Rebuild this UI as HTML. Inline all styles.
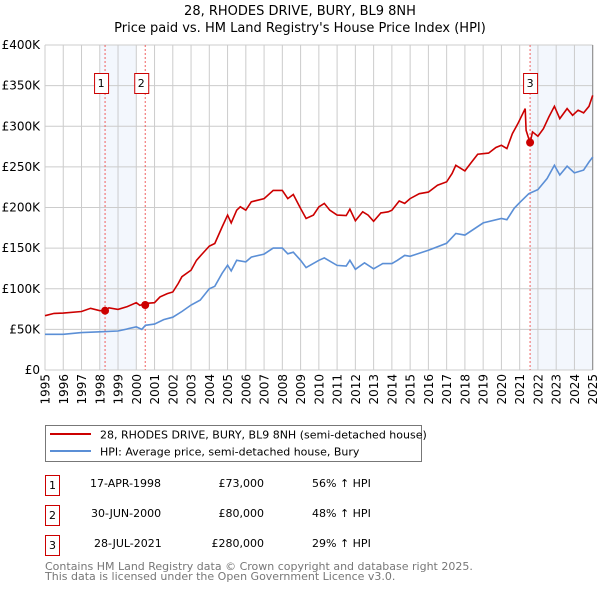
<!DOCTYPE html>
<html><head><meta charset="utf-8"><style>
body{margin:0;background:#fff;font-family:"DejaVu Sans","Liberation Sans",sans-serif}
svg text{font-family:"DejaVu Sans","Liberation Sans",sans-serif}
</style></head><body>
<svg id="c" width="600" height="590" viewBox="0 0 600 590" xmlns="http://www.w3.org/2000/svg">
<text x="300" y="15" text-anchor="middle" font-size="13">28, RHODES DRIVE, BURY, BL9 8NH</text>
<text x="300" y="32" text-anchor="middle" font-size="13">Price paid vs. HM Land Registry's House Price Index (HPI)</text>
<g id="plot"></g>
<rect x="45.5" y="425.5" width="376" height="36" fill="#fff" stroke="#777"/>
<line x1="50" y1="434" x2="91" y2="434" stroke="#cc0000" stroke-width="2"/>
<text x="100" y="438.5" font-size="11">28, RHODES DRIVE, BURY, BL9 8NH (semi-detached house)</text>
<line x1="50" y1="451" x2="91" y2="451" stroke="#5b8fd6" stroke-width="2"/>
<text x="100" y="455.5" font-size="11">HPI: Average price, semi-detached house, Bury</text>
<g font-size="11">
<rect x="45.5" y="475.5" width="14" height="20" fill="#fff" stroke="#cc0000"/><text x="52.5" y="489" text-anchor="middle">1</text>
<text x="90" y="487">17-APR-1998</text><text x="264" y="487" text-anchor="end">£73,000</text><text x="312" y="487">56% ↑ HPI</text>
<rect x="45.5" y="505.5" width="14" height="20" fill="#fff" stroke="#cc0000"/><text x="52.5" y="519" text-anchor="middle">2</text>
<text x="91" y="517">30-JUN-2000</text><text x="264" y="517" text-anchor="end">£80,000</text><text x="312" y="517">48% ↑ HPI</text>
<rect x="45.5" y="535.5" width="14" height="20" fill="#fff" stroke="#cc0000"/><text x="52.5" y="549" text-anchor="middle">3</text>
<text x="94" y="547">28-JUL-2021</text><text x="264" y="547" text-anchor="end">£280,000</text><text x="312" y="547">29% ↑ HPI</text>
</g>
<text x="45" y="570" font-size="11" fill="#777">Contains HM Land Registry data © Crown copyright and database right 2025.</text>
<text x="45" y="580" font-size="11" fill="#777">This data is licensed under the Open Government Licence v3.0.</text>
</svg>
<script>
const hpiYears=[1995,1996,1997,1998,1999,2000,2000.3,2000.5,2001,2001.5,2002,2002.5,2003,2003.5,2004,2004.3,2004.7,2005,2005.2,2005.5,2006,2006.3,2007,2007.5,2008,2008.3,2008.6,2009,2009.3,2010,2010.3,2011,2011.5,2011.7,2012,2012.5,2013,2013.5,2014,2014.3,2014.7,2015,2016,2017,2017.5,2018,2019,2020,2020.3,2020.7,2021,2021.5,2022,2022.5,2022.9,2023.2,2023.6,2024,2024.5,2024.8,2025];
const hpiValues=[44,44,46,47,48,53,50,55,56.5,62,65,72,80,86,100,103,119,129,122,135,133,139,142.6,150,150,143,145,135,126,135,138,128.7,128,135,124,132,124.6,131,131,135,141,140,147.5,156,168,166,181,186.5,185,199,206,217,222,235.7,252,240,250.8,242.6,246,256,262];
const priceYears=[1995,1995.5,1996,1997,1997.5,1998,1998.3,1998.5,1999,1999.5,2000,2000.2,2000.5,2001,2001.3,2001.7,2002,2002.3,2002.5,2003,2003.3,2003.6,2004,2004.3,2004.7,2005,2005.2,2005.5,2005.7,2006,2006.3,2007,2007.5,2008,2008.3,2008.6,2009,2009.3,2009.7,2010,2010.3,2010.6,2011,2011.5,2011.7,2012,2012.4,2012.7,2013,2013.4,2013.8,2014,2014.4,2014.7,2015,2015.5,2016,2016.5,2017,2017.3,2017.5,2018,2018.3,2018.7,2019.3,2019.7,2020,2020.3,2020.6,2020.9,2021.3,2021.35,2021.57,2021.7,2022,2022.3,2022.6,2022.9,2023.2,2023.6,2023.9,2024.2,2024.5,2024.8,2025];
const priceValues=[66.8,69.7,70,72,76,73,73,76.6,74.6,78,82.8,79.5,82,82.8,90,94,96,106.6,114.8,123,135,142.6,152.5,155.7,176,190.6,181,196.7,200.8,196.7,207,211,221,221,211,216,198.8,186.5,190.6,200.8,205,196.7,190.6,190,198,183.6,194.7,190.6,183,193.4,194.7,196.7,208,205,211,217,219,227.5,231.5,241.8,252,245,254,265.6,267,273.8,276.6,272.5,291,303,321.7,295,279.5,293,287.7,297,311.5,324.6,309.4,321.7,313.5,319.7,316.4,324.6,338];
const saleLabels=["1","2","3"];
const saleYears=[1998.29,2000.49,2021.57];
const saleValues=[73,80,280];
const yTicks=[0,50,100,150,200,250,300,350,400];
const yTickLabels=["£0","£50K","£100K","£150K","£200K","£250K","£300K","£350K","£400K"];
const xTicks=[1995,1996,1997,1998,1999,2000,2001,2002,2003,2004,2005,2006,2007,2008,2009,2010,2011,2012,2013,2014,2015,2016,2017,2018,2019,2020,2021,2022,2023,2024,2025];

const X0=45,X1=592.7,Y0=370,Y1=45;
const xs=y=>X0+(y-1995)/30*(X1-X0);
const ys=v=>Y0-v/400*(Y0-Y1);
const NS="http://www.w3.org/2000/svg";
const g=document.getElementById('plot');
function mk(t,a){const e=document.createElementNS(NS,t);for(const k in a)e.setAttribute(k,a[k]);g.appendChild(e);return e;}
// shading
let e=mk('rect',{x:xs(1998),y:Y1,width:xs(2000)-xs(1998),height:Y0-Y1,fill:'#eef3fc',opacity:0.7});


e=mk('rect',{x:xs(saleYears[2]),y:Y1,width:X1-xs(saleYears[2]),height:Y0-Y1,fill:'#eef3fc',opacity:0.7});


yTicks.forEach((t,i)=>{
 e=mk('line',{x1:X0,x2:X1,y1:ys(t),y2:ys(t),stroke:'#ccc'});
 
 
 e=mk('text',{x:40,y:ys(t)+4,'text-anchor':'end','font-size':12});
 e.textContent=yTickLabels[i];
 
 
});
xTicks.forEach(t=>{
 e=mk('line',{x1:xs(t),x2:xs(t),y1:Y1,y2:Y0,stroke:'#ccc'});
 
 
 e=mk('text',{x:0,y:0,'text-anchor':'end','font-size':12,transform:`translate(${xs(t)+4.5},${Y0+4}) rotate(-90)`});
 e.textContent=t;
 
 
});
e=mk('line',{x1:X1,x2:X1,y1:Y1,y2:Y0,stroke:'#888'});


saleYears.forEach((s,i)=>{
 e=mk('line',{x1:xs(s),x2:xs(s),y1:Y1,y2:Y0,stroke:'#f06060','stroke-dasharray':'2,2'});
 
 
 e=mk('rect',{x:xs(s)-7-(i<2?4:0)+0.5,y:73.5,width:14,height:20,fill:'#fff',stroke:'#cc0000'});
 
 
 e=mk('text',{x:xs(s)-(i<2?4:0),y:87,'text-anchor':'middle','font-size':11});
 e.textContent=saleLabels[i];
 
 
});
const path=(xa,va)=>xa.map((x,i)=>(i?'L':'M')+xs(x).toFixed(1)+','+ys(va[i]).toFixed(1)).join('');
e=mk('path',{d:path(hpiYears,hpiValues),fill:'none',stroke:'#5b8fd6','stroke-width':1.6});


e=mk('path',{d:path(priceYears,priceValues),fill:'none',stroke:'#cc0000','stroke-width':1.6});


saleYears.forEach((s,i)=>{
 e=mk('circle',{cx:xs(s),cy:ys(saleValues[i]),r:4,fill:'#cc0000'});
 
 
});
</script>
</body></html>
